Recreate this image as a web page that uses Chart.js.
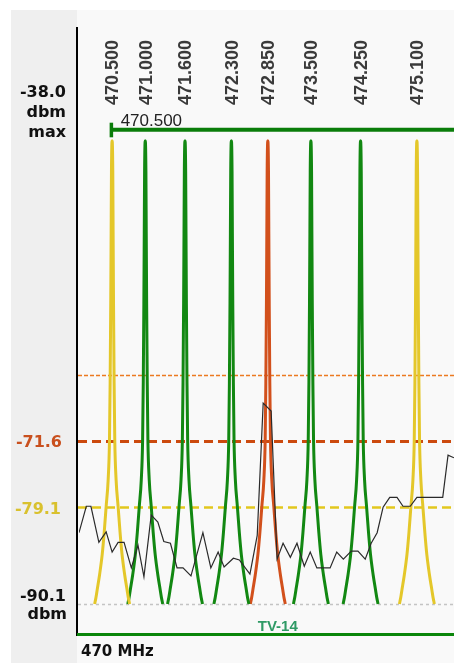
<!DOCTYPE html>
<html><head><meta charset="utf-8">
<script src="https://cdn.jsdelivr.net/npm/chart.js@4/dist/chart.umd.min.js"></script>
<style>html,body{margin:0;padding:0;background:#fff;} #wrap{width:454px;height:663px;position:relative;}</style>
</head><body><div id="wrap"><canvas id="c" width="454" height="663"></canvas></div>
<script>
// ---------- data ----------
const channelFreqs  = [470.5, 471.0, 471.6, 472.3, 472.85, 473.5, 474.25, 475.1];
const channelLabels = ['470.500','471.000','471.600','472.300','472.850','473.500','474.250','475.100'];
const channelStatus = ['warn','ok','ok','ok','alert','ok','ok','warn'];

const peakOffsets = [0.264, 0.245, 0.226, 0.19, 0.15, 0.12, 0.09, 0.06, 0.04, 0.03, 0.021, 0.015, 0.01, 0];
const peakLevels  = [-90.1, -89.4, -88.5, -86.8, -84.5, -82.0, -79.0, -76.0, -71.5, -65.0, -56.0, -48.0, -41.0, -37.5];

const scanFreqs = [470.00,470.11,470.18,470.30,470.41,470.50,470.59,470.68,470.79,470.89,470.98,471.09,471.19,471.28,471.38,471.48,471.57,471.69,471.87,471.99,472.10,472.19,472.33,472.42,472.58,472.69,472.78,472.90,472.99,473.08,473.19,473.29,473.40,473.49,473.59,473.79,473.89,473.99,474.11,474.21,474.32,474.41,474.50,474.59,474.69,474.80,474.89,475.00,475.10,475.49,475.57,475.66];
const scanLevels = [-82.0,-79.0,-79.0,-83.1,-81.9,-84.2,-83.1,-83.1,-86.0,-83.4,-87.0,-80.0,-80.8,-83.0,-83.2,-86.0,-86.0,-86.9,-82.0,-86.0,-84.2,-85.9,-84.9,-85.1,-86.7,-82.3,-67.3,-68.2,-85.0,-83.2,-84.8,-83.2,-85.8,-84.2,-86.0,-86.0,-84.2,-85.0,-84.1,-84.1,-85.0,-83.2,-82.0,-79.1,-78.0,-78.0,-79.0,-79.0,-78.0,-78.0,-73.2,-73.5];

const thresholdLevels = [-64.1, -71.6, -79.1, -90.1];
const thresholdKinds  = ['warnThin','alert','warn','floor'];
const maxLevel = -38.0;
const floorLevel = -90.1;
const markerFreq = 470.5;
const markerLabel = '470.500';
const tvChannelLabel = 'TV-14';
const tvChannelStart = 470;
const tvChannelEnd = 476;
const axisStartLabel = '470 MHz';
const xMin = 470.0, xMax = 475.66;
const yMin = -93.5, yMax = -24.6;

// ---------- styles ----------
const statusColor = { ok: '#128812', warn: '#e4c72a', alert: '#d2501c' };
const thresholdStyle = {
  warnThin: { color: '#ec7a20', width: 1.3, dash: [4, 2] },
  alert:    { color: '#cc4a0e', width: 3,   dash: [9, 5] },
  warn:     { color: '#e2c71e', width: 2.5, dash: [9, 5] },
  floor:    { color: '#c4c4c4', width: 1.5, dash: [3, 3] }
};

// ---------- build datasets ----------
function peakPoints(center) {
  const pts = [];
  for (let i = 0; i < peakOffsets.length; i++) pts.push({ x: center - peakOffsets[i], y: peakLevels[i] });
  for (let i = peakOffsets.length - 2; i >= 0; i--) pts.push({ x: center + peakOffsets[i], y: peakLevels[i] });
  return pts;
}
const datasets = [{
  label: 'scan',
  data: scanFreqs.map((f, i) => ({ x: f, y: scanLevels[i] })),
  borderColor: '#2a2a2a', borderWidth: 1.2, pointRadius: 0, fill: false, tension: 0, order: 0
}];
channelFreqs.forEach((f, i) => {
  datasets.push({
    label: channelLabels[i],
    data: peakPoints(f),
    borderColor: statusColor[channelStatus[i]], borderWidth: 3, pointRadius: 0, fill: false,
    cubicInterpolationMode: 'monotone', order: 1
  });
});

const W = 454, H = 663;
const decor = {
  id: 'decor',
  beforeDraw(chart) {
    const ctx = chart.ctx;
    ctx.save();
    ctx.fillStyle = '#ffffff'; ctx.fillRect(0, 0, W, H);
    ctx.fillStyle = '#efefef'; ctx.fillRect(11, 10, 66, H - 10);
    ctx.fillStyle = '#f9f9f9'; ctx.fillRect(77, 10, W - 77, H - 10);
    ctx.restore();
  },
  beforeDatasetsDraw(chart) {
    const ctx = chart.ctx, y = chart.scales.y, a = chart.chartArea;
    ctx.save();
    thresholdLevels.forEach((v, i) => {
      const s = thresholdStyle[thresholdKinds[i]];
      const py = Math.round(y.getPixelForValue(v)) + 0.5;
      ctx.strokeStyle = s.color; ctx.lineWidth = s.width; ctx.setLineDash(s.dash);
      ctx.beginPath(); ctx.moveTo(78, py); ctx.lineTo(a.right, py); ctx.stroke();
    });
    ctx.restore();
  },
  afterDatasetsDraw(chart) {
    const ctx = chart.ctx, x = chart.scales.x, y = chart.scales.y, a = chart.chartArea;
    ctx.save();
    ctx.setLineDash([]);
    // left axis
    ctx.strokeStyle = '#000'; ctx.lineWidth = 2;
    ctx.beginPath(); ctx.moveTo(77, 27); ctx.lineTo(77, 636); ctx.stroke();
    // bottom channel bar
    ctx.strokeStyle = '#0b860b'; ctx.lineWidth = 3;
    ctx.beginPath(); ctx.moveTo(x.getPixelForValue(tvChannelStart) - 2, 634.5); ctx.lineTo(Math.max(a.right, x.getPixelForValue(tvChannelEnd)), 634.5); ctx.stroke();
    // marker bar
    const mx = x.getPixelForValue(markerFreq);
    ctx.strokeStyle = '#0a7d0a'; ctx.lineWidth = 4;
    ctx.beginPath(); ctx.moveTo(mx - 2, 129.7); ctx.lineTo(a.right, 129.7); ctx.stroke();
    ctx.fillStyle = '#0a7d0a'; ctx.fillRect(mx - 2.5, 122.7, 3.5, 14.6);
    ctx.fillStyle = '#222'; ctx.font = '17px "Liberation Sans", Arial, sans-serif';
    ctx.textAlign = 'left'; ctx.textBaseline = 'alphabetic';
    ctx.fillText(markerLabel, mx + 8.5, 126);
    // rotated channel labels
    ctx.fillStyle = '#3a3a3a'; ctx.font = 'bold 18px "Liberation Sans", Arial, sans-serif';
    channelFreqs.forEach((f, i) => {
      const px = x.getPixelForValue(f);
      ctx.save(); ctx.translate(px + 6.3, 105); ctx.rotate(-Math.PI / 2);
      ctx.textAlign = 'left'; ctx.textBaseline = 'alphabetic';
      ctx.fillText(channelLabels[i], 0, 0);
      ctx.restore();
    });
    // left labels
    ctx.textAlign = 'right'; ctx.textBaseline = 'alphabetic';
    ctx.font = 'bold 16px "DejaVu Sans", Verdana, sans-serif';
    ctx.fillStyle = '#111';
    ctx.fillText(maxLevel.toFixed(1), 66, 97);
    ctx.fillText('dbm', 66, 117);
    ctx.fillText('max', 66, 137);
    const fy = y.getPixelForValue(floorLevel);
    ctx.fillText(floorLevel.toFixed(1), 66, fy - 3);
    ctx.fillText('dbm', 67, fy + 15);
    ctx.fillStyle = '#c9501e';
    ctx.fillText(thresholdLevels[1].toFixed(1), 62, y.getPixelForValue(thresholdLevels[1]) + 6);
    ctx.fillStyle = '#d9c12e';
    ctx.fillText(thresholdLevels[2].toFixed(1), 61, y.getPixelForValue(thresholdLevels[2]) + 6.5);
    // TV channel label
    ctx.textAlign = 'center';
    ctx.fillStyle = '#2f9a66'; ctx.font = 'bold 15px "Liberation Sans", Arial, sans-serif';
    ctx.fillText(tvChannelLabel, x.getPixelForValue((tvChannelStart + tvChannelEnd) / 2), 630.5);
    // axis start label
    ctx.textAlign = 'left';
    ctx.fillStyle = '#111'; ctx.font = 'bold 15px "DejaVu Sans", Verdana, sans-serif';
    ctx.fillText(axisStartLabel, 81, 656);
    ctx.restore();
  }
};

new Chart(document.getElementById('c'), {
  type: 'line',
  data: { datasets },
  options: {
    responsive: false, animation: false, devicePixelRatio: 1, events: [],
    layout: { padding: { left: 79, right: 0, top: 27, bottom: 29 } },
    plugins: { legend: { display: false }, tooltip: { enabled: false }, title: { display: false } },
    scales: {
      x: { type: 'linear', min: xMin, max: xMax, display: false },
      y: { type: 'linear', min: yMin, max: yMax, display: false }
    }
  },
  plugins: [decor]
});
</script>
</body></html>
